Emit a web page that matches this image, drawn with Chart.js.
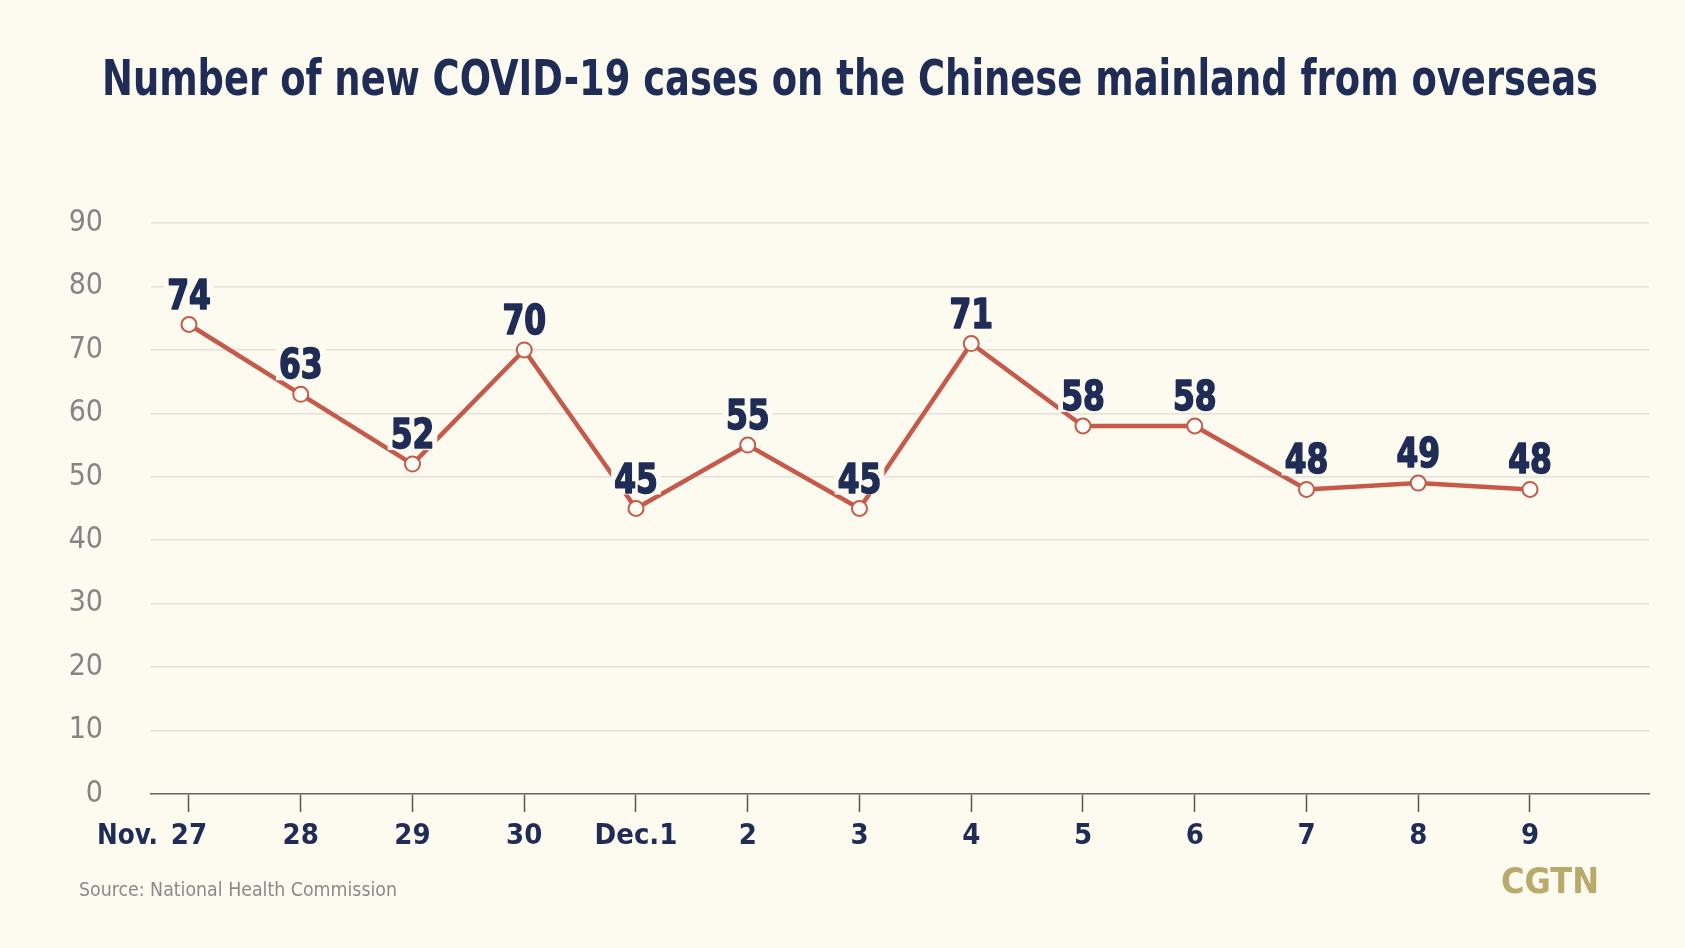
<!DOCTYPE html>
<html>
<head>
<meta charset="utf-8">
<script src="https://cdn.jsdelivr.net/npm/chart.js@4.4.1/dist/chart.umd.min.js"></script>
<style>
html,body{margin:0;padding:0;background:#fdfaf0;}
canvas{display:block;}
</style>
</head>
<body>
<canvas id="c" width="1685" height="948"></canvas>
<script>
const titleText = "Number of new COVID-19 cases on the Chinese mainland from overseas";
const sourceText = "Source: National Health Commission";
const brandText = "CGTN";
const categories = ["27","28","29","30","Dec.1","2","3","4","5","6","7","8","9"];
const monthPrefix = "Nov.";
const cases = [74, 63, 52, 70, 45, 55, 45, 71, 58, 58, 48, 49, 48];
const yTicks = [0,10,20,30,40,50,60,70,80,90];

const BG = "#fdfaf0";
const NAVY = "#1e2c56";
const RED = "#c65a4a";
const FONT = '"Liberation Sans Narrow", "DejaVu Sans Condensed", "Liberation Sans", sans-serif';

const points = cases.map((v, i) => ({x: i, y: v}));

// draw text squeezed horizontally by factor sx
function squeezed(ctx, txt, x, y, sx, align) {
  ctx.save();
  ctx.translate(x, y);
  ctx.scale(sx, 1);
  ctx.textAlign = align;
  ctx.fillText(txt, 0, 0);
  ctx.restore();
}
// draw text fitted to a target width
function fitted(ctx, txt, x, y, width, align) {
  const w = ctx.measureText(txt).width;
  squeezed(ctx, txt, x, y, width / w, align);
}

const decorPlugin = {
  id: 'decor',
  afterDatasetsDraw(chart) {
    const ctx = chart.ctx;
    const meta = chart.getDatasetMeta(0);
    ctx.save();
    ctx.font = 'bold 41px ' + FONT;
    ctx.textBaseline = 'alphabetic';
    const sx = 0.85;
    meta.data.forEach((pt, i) => {
      const txt = String(cases[i]);
      const w = ctx.measureText(txt).width * sx;
      const y = pt.y - 16;
      ctx.fillStyle = BG;
      ctx.fillRect(pt.x - w/2 - 3, y - 32, w + 6, 34);
      ctx.fillStyle = NAVY;
      ctx.strokeStyle = NAVY;
      ctx.lineWidth = 1.6;
      ctx.lineJoin = 'round';
      ctx.save();
      ctx.translate(pt.x, y);
      ctx.scale(sx, 1);
      ctx.textAlign = 'center';
      ctx.fillText(txt, 0, 0);
      ctx.strokeText(txt, 0, 0);
      ctx.restore();
    });
    ctx.restore();
  },
  afterDraw(chart) {
    const ctx = chart.ctx;
    const xs = chart.scales.x;
    ctx.save();
    ctx.textBaseline = 'middle';
    // title
    ctx.fillStyle = NAVY;
    ctx.font = 'bold 50px ' + FONT;
    fitted(ctx, titleText, 850, 82, 1496, 'center');
    // month prefix
    ctx.font = 'bold 29px ' + FONT;
    squeezed(ctx, monthPrefix, xs.getPixelForValue(0) - 31, 836, 0.95, 'right');
    // source
    ctx.fillStyle = "#8a8a8a";
    ctx.font = '20px ' + FONT;
    fitted(ctx, sourceText, 79, 891, 318, 'left');
    // brand
    ctx.fillStyle = "#b9a96b";
    ctx.font = 'bold 36px "DejaVu Sans", sans-serif';
    fitted(ctx, brandText, 1599, 884, 98, 'right');
    ctx.restore();
  }
};

const bgPlugin = {
  id: 'bg',
  beforeDraw(chart) {
    const ctx = chart.ctx;
    ctx.save();
    ctx.fillStyle = BG;
    ctx.fillRect(0, 0, chart.width, chart.height);
    ctx.restore();
  }
};

new Chart(document.getElementById('c'), {
  type: 'line',
  data: {
    datasets: [{
      data: points,
      borderColor: RED,
      borderWidth: 4.5,
      pointRadius: 7.5,
      pointBorderWidth: 2,
      pointBackgroundColor: "#fffdf6",
      pointBorderColor: RED,
      tension: 0
    }]
  },
  options: {
    responsive: false,
    animation: false,
    devicePixelRatio: 1,
    layout: { padding: { left: 0, top: 223, right: 36, bottom: 94 } },
    plugins: { legend: { display: false }, tooltip: { enabled: false } },
    scales: {
      x: {
        type: 'linear',
        min: -0.34,
        max: 13.065,
        afterFit(s) { s.height = 60; },
        afterBuildTicks(s) {
          s.ticks = categories.map((c, i) => ({value: i}));
        },
        grid: { drawOnChartArea: false, drawTicks: true, tickLength: 18, tickColor: "#555", tickWidth: 1.5 },
        border: { display: true, color: "#666", width: 1.5 },
        ticks: {
          padding: 7,
          maxRotation: 0,
          autoSkip: false,
          color: NAVY,
          font: { family: FONT, size: 29, weight: 'bold' },
          callback: (v) => categories[v] !== undefined ? categories[v] : ''
        }
      },
      y: {
        min: 0,
        max: 90,
        afterFit(s) { s.width = 151; },
        afterBuildTicks(s) { s.ticks = yTicks.map(v => ({value: v})); },
        grid: { color: "#e4e1d8", lineWidth: 1.5, drawTicks: false },
        border: { display: false },
        ticks: {
          padding: 48,
          color: "#858585",
          font: { family: FONT, size: 30 }
        }
      }
    }
  },
  plugins: [bgPlugin, decorPlugin]
});
</script>
</body>
</html>
